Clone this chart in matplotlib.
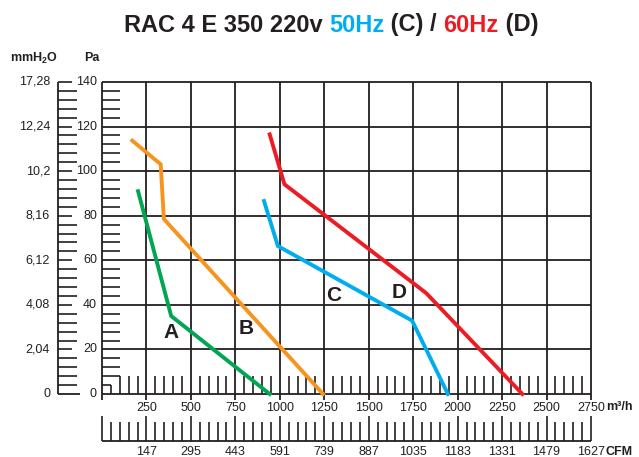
import numpy as np
import matplotlib
matplotlib.use('Agg')
import matplotlib.pyplot as plt

plt.rcParams['font.family'] = ['Liberation Sans', 'DejaVu Sans']
plt.rcParams['mathtext.fontset'] = 'custom'
plt.rcParams['mathtext.rm'] = 'Liberation Sans'
plt.rcParams['mathtext.bf'] = 'Liberation Sans:bold'

# curve data (m3/h, Pa)
a_flow = [203, 389, 943]
a_pres = [91, 35, 0]
b_flow = [170, 330, 348, 1243]
b_pres = [113.7, 103.1, 78.5, 0]
c_flow = [911, 989, 1744, 1945]
c_pres = [86.6, 66.4, 32.9, 0]
d_flow = [943, 1026, 1740, 1824, 2364]
d_pres = [116.5, 94.1, 50.4, 45.2, 0]

curve_labels = ['A', 'B', 'C', 'D']
label_flow = [391, 810, 1303, 1672]
label_pres = [27.4, 29.6, 44.0, 45.7]

flow_ticks = [250, 500, 750, 1000, 1250, 1500, 1750, 2000, 2250, 2500, 2750]
cfm_labels = ['147', '295', '443', '591', '739', '887', '1035', '1183', '1331', '1479', '1627']
pa_ticks = [0, 20, 40, 60, 80, 100, 120, 140]
mm_labels = ['0', '2,04', '4,08', '6,12', '8,16', '10,2', '12,24', '17,28']

DARK = '#231f20'
GREEN = '#00a651'
ORANGE = '#f7941d'
BLUE = '#00aeef'
RED = '#ed1c24'

fig = plt.figure(figsize=(6.39, 4.57), dpi=100)
ax = fig.add_axes([102/639, 63/457, 489/639, 312/457])
ax.set_xlim(0, 2750)
ax.set_ylim(0, 140)
ax.axis('off')

def px2x(px):
    return (px - 102) * 2750 / 489

def py2y(py):
    return (394 - py) * 140 / 312

lk = dict(color=DARK, clip_on=False, solid_capstyle='butt')

# grid
for p in pa_ticks[1:]:
    ax.plot([0, 2750], [p, p], lw=1.3, **lk)
ax.plot([0, 2750], [0, 0], lw=1.3, **lk)
for f in [0] + flow_ticks:
    ax.plot([f, f], [-2.5, 140], lw=1.3, **lk)

# inner minor ticks
for p in np.arange(4, 140, 4):
    if p % 20 == 0:
        continue
    length = 50 if p == 4 else 100
    ax.plot([0, length], [p, p], lw=1.2, **lk)
for f in np.arange(50, 2750, 50):
    if f % 250 == 0:
        continue
    h = 4 if f == 50 else 8
    ax.plot([f, f], [0, h], lw=1.2, **lk)

# outer pressure axis (mmH2O / Pa)
xo = px2x(58)
ax.plot([xo, xo], [0, 140], lw=1.3, **lk)
ax.plot([xo, px2x(80)], [0, 0], lw=1.3, **lk)
for p in np.arange(4, 141, 4):
    end = px2x(72) if p % 20 == 0 else px2x(77)
    ax.plot([xo, end], [p, p], lw=1.2, **lk)
for p, m in zip(pa_ticks, mm_labels):
    ax.text(px2x(97), p, str(p), ha='right', va='center', fontsize=9, color=DARK, clip_on=False)
    ax.text(px2x(50), p, m, ha='right', va='center', fontsize=9, color=DARK, clip_on=False)
ax.text(px2x(10), py2y(58), r'mmH$_\mathbf{2}$O', ha='left', va='center', fontsize=9,
        fontweight='bold', color=DARK)
ax.text(px2x(84), py2y(58), 'Pa', ha='left', va='center', fontsize=9, fontweight='bold', color=DARK)

# flow labels
for f in flow_ticks:
    ax.text(f, py2y(408), str(f), ha='center', va='center', fontsize=9, color=DARK)
ax.text(px2x(606), py2y(407), 'm³/h', ha='left', va='center', fontsize=9, fontweight='bold', color=DARK)

# CFM axis
yc = py2y(441)
ax.plot([0, 2750], [yc, yc], lw=1.3, **lk)
for f in np.arange(0, 2751, 50):
    top = py2y(416) if f % 250 == 0 else py2y(422)
    ax.plot([f, f], [yc, top], lw=1.2, **lk)
for f, c in zip(flow_ticks, cfm_labels):
    ax.text(f, py2y(452), c, ha='center', va='center', fontsize=9, color=DARK)
ax.text(px2x(605), py2y(452), 'CFM', ha='left', va='center', fontsize=9, fontweight='bold', color=DARK)

# curves
for fl, pr, col in zip([a_flow, b_flow, c_flow, d_flow], [a_pres, b_pres, c_pres, d_pres],
                       [GREEN, ORANGE, BLUE, RED]):
    ax.plot(fl, pr, color=col, lw=2.8, solid_joinstyle='miter', clip_on=False)
for lab, f, p in zip(curve_labels, label_flow, label_pres):
    ax.text(f, p, lab, ha='center', va='center', fontsize=15, fontweight='bold', color=DARK)

# title, coloured in parts
parts = ['RAC 4 E 350 220v ', '50Hz', ' (C) / ', '60Hz', ' (D)']
cols = [DARK, BLUE, DARK, RED, DARK]
r = fig.canvas.get_renderer()
texts = []
total = 0
for s, c in zip(parts, cols):
    t = fig.text(0, 0, s, fontsize=17, fontweight='bold', color=c)
    w = t.get_window_extent(renderer=r).width
    texts.append((t, w))
    total += w
x0 = 331 - total / 2
for t, w in texts:
    t.set_position((x0 / 639, 1 - 25 / 457))
    t.set_va('center')
    x0 += w

fig.savefig('out.png', dpi=100)
